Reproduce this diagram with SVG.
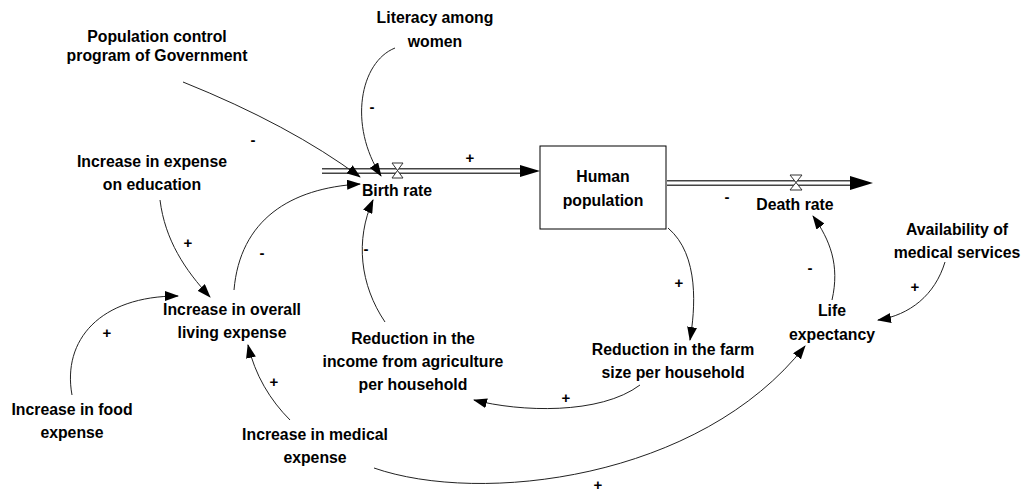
<svg xmlns="http://www.w3.org/2000/svg" width="1021" height="492" viewBox="0 0 1021 492">
<style>
text{font-family:"Liberation Sans",Arial,sans-serif;font-weight:bold;font-size:15.8px;fill:#000;text-anchor:middle}
.sign{font-size:15px}
.link{fill:none;stroke:#222;stroke-width:1;marker-end:url(#ah)}
.pipeO{stroke:#444;stroke-width:6;fill:none}
.pipeI{stroke:#fff;stroke-width:3;fill:none}
.valve{fill:#fff;stroke:#333;stroke-width:1}
</style>
<defs>
<marker id="ah" markerUnits="userSpaceOnUse" markerWidth="14" markerHeight="10" refX="13" refY="5" orient="auto">
<path d="M0,0 L14,5 L0,10 Z" fill="#000"/>
</marker>
</defs>
<rect width="1021" height="492" fill="#fff"/>
<g id="flows">
<line class="pipeO" x1="322" y1="171" x2="522" y2="171"/>
<line class="pipeI" x1="322" y1="171" x2="524" y2="171"/>
<path d="M520,165 L540,171 L520,177 Z" fill="#000"/>
<path class="valve" d="M392,163 L403,163 L392,178 L403,178 Z"/>
<line class="pipeO" x1="667" y1="183" x2="852" y2="183"/>
<line class="pipeI" x1="667" y1="183" x2="852" y2="183"/>
<path d="M850,176 L873,183 L850,190 Z" fill="#000"/>
<path class="valve" d="M790,175 L802,175 L790,190 L802,190 Z"/>
</g>
<g id="human-population">
<rect x="540" y="146" width="126" height="83" fill="#fff" stroke="#000" stroke-width="1"/>
<text x="603" y="182">Human</text>
<text x="603" y="206">population</text>
</g>
<g id="population-control"><text x="157" y="42">Population control</text><text x="157" y="61">program of Government</text></g>
<g id="literacy"><text x="435" y="23">Literacy among</text><text x="435" y="47">women</text></g>
<g id="education"><text x="152" y="167">Increase in expense</text><text x="152" y="190">on education</text></g>
<g id="birth-rate"><text x="397" y="196">Birth rate</text></g>
<g id="death-rate"><text x="795" y="210">Death rate</text></g>
<g id="medical-services"><text x="957" y="235">Availability of</text><text x="957" y="258">medical services</text></g>
<g id="life-expectancy"><text x="832" y="316">Life</text><text x="832" y="340">expectancy</text></g>
<g id="living-expense"><text x="232" y="315">Increase in overall</text><text x="232" y="338">living expense</text></g>
<g id="income-reduction"><text x="413" y="344">Reduction in the</text><text x="413" y="367">income from agriculture</text><text x="413" y="390">per household</text></g>
<g id="farm-reduction"><text x="673" y="355">Reduction in the farm</text><text x="673" y="378">size per household</text></g>
<g id="food-expense"><text x="72" y="415">Increase in food</text><text x="72" y="438">expense</text></g>
<g id="medical-expense"><text x="315" y="440">Increase in medical</text><text x="315" y="463">expense</text></g>
<g id="connectors">
<path class="link" d="M183,82 Q290,125 360,177"/>
<path class="link" d="M395,48 C360,62 348,125 381,176"/>
<path class="link" d="M160,200 C165,240 185,270 210,297"/>
<path class="link" d="M234,290 C240,220 290,188 360,184"/>
<path class="link" d="M72,395 C62,340 100,296 178,296"/>
<path class="link" d="M290,420 C270,400 255,375 248,345"/>
<path class="link" d="M385,322 C360,285 355,240 373,200"/>
<path class="link" d="M668,228 C700,255 695,310 690,340"/>
<path class="link" d="M640,385 C600,415 520,412 474,400"/>
<path class="link" d="M374,468 C480,505 700,480 805,346"/>
<path class="link" d="M832,300 C840,265 830,240 813,216"/>
<path class="link" d="M945,262 C935,295 910,315 878,320"/>
</g>
<g id="signs">
<text class="sign" x="253" y="145">-</text>
<text class="sign" x="372" y="112">-</text>
<text class="sign" x="188" y="248">+</text>
<text class="sign" x="262" y="258">-</text>
<text class="sign" x="107" y="338">+</text>
<text class="sign" x="274" y="387">+</text>
<text class="sign" x="366" y="254">-</text>
<text class="sign" x="679" y="288">+</text>
<text class="sign" x="566" y="403">+</text>
<text class="sign" x="598" y="490">+</text>
<text class="sign" x="810" y="273">-</text>
<text class="sign" x="915" y="292">+</text>
<text class="sign" x="470" y="163">+</text>
<text class="sign" x="727" y="202">-</text>
</g>
</svg>
